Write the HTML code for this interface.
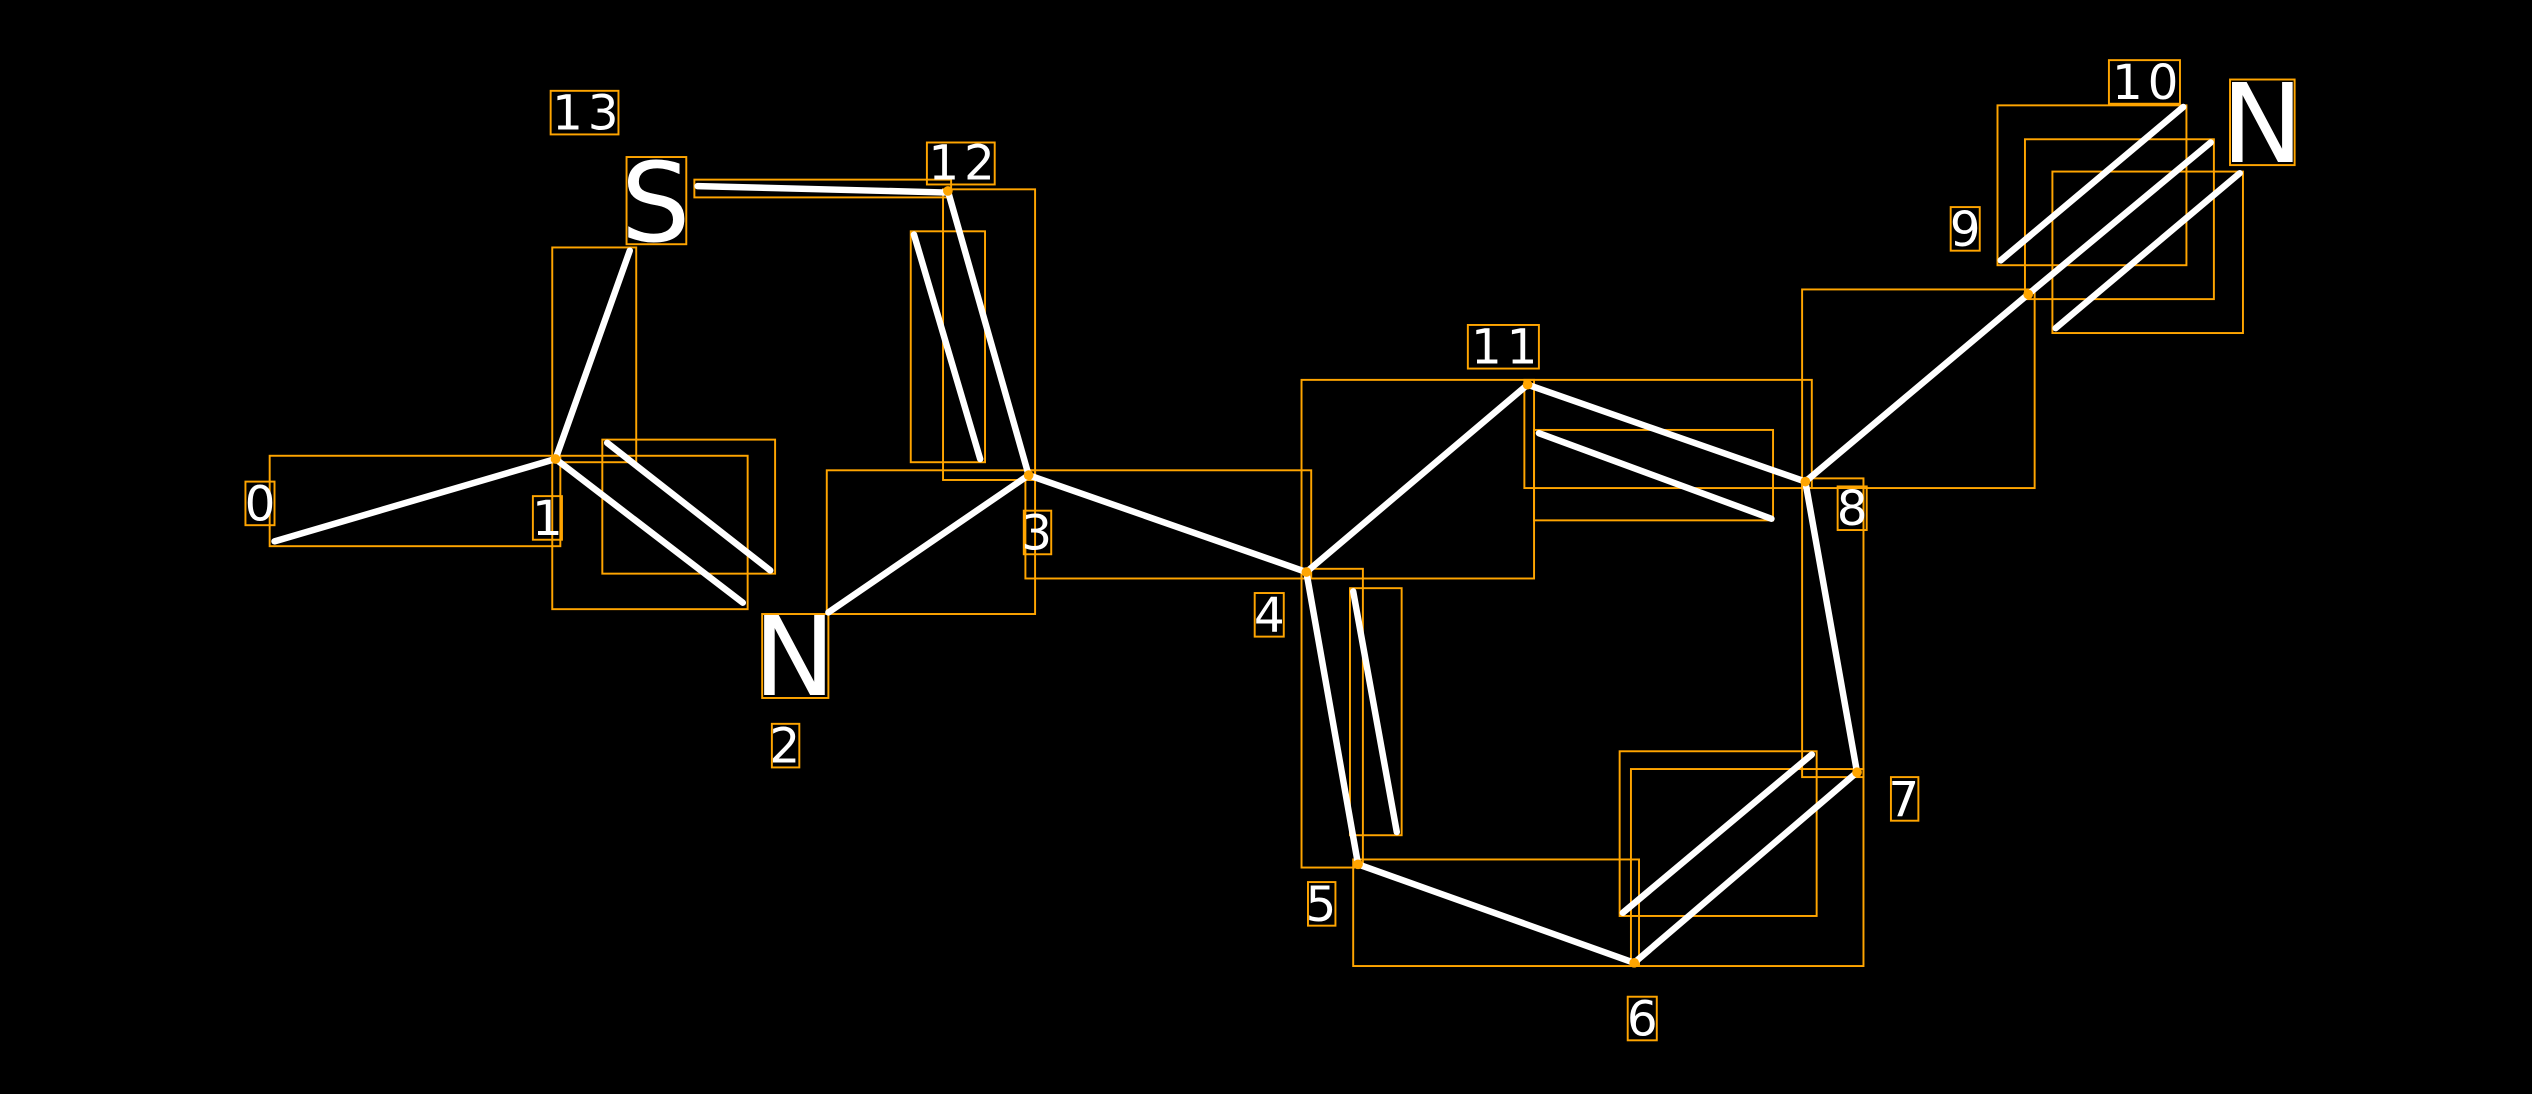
<!DOCTYPE html>
<html><head><meta charset="utf-8"><style>
html,body{margin:0;padding:0;background:#000;}
svg{display:block;}
text{font-family:"DejaVu Sans","Liberation Sans",sans-serif;fill:#fff;}
</style></head><body>
<svg width="2532" height="1094" viewBox="0 0 1568 677" xmlns="http://www.w3.org/2000/svg">
<rect width="1568" height="677" fill="#000"/>
<g fill="none" stroke="#FFA500" stroke-width="1.2">
<rect x="167" y="282" width="180" height="56"/>
<rect x="342" y="153" width="52" height="133"/>
<rect x="342" y="282" width="121" height="95"/>
<rect x="373" y="272" width="107" height="83"/>
<rect x="512" y="291" width="129" height="89"/>
<rect x="584" y="117" width="57" height="180"/>
<rect x="564" y="143" width="46" height="143"/>
<rect x="430" y="111" width="159" height="11"/>
<rect x="635" y="291" width="177" height="67"/>
<rect x="806" y="235" width="144" height="123"/>
<rect x="944" y="235" width="178" height="67"/>
<rect x="950" y="266" width="148" height="56"/>
<rect x="1116" y="179" width="144" height="123"/>
<rect x="1237" y="65" width="117" height="99"/>
<rect x="1254" y="86" width="117" height="99"/>
<rect x="1271" y="106" width="118" height="100"/>
<rect x="1116" y="296" width="38" height="185"/>
<rect x="1010" y="476" width="144" height="122"/>
<rect x="1003" y="465" width="122" height="102"/>
<rect x="838" y="532" width="177" height="66"/>
<rect x="806" y="352" width="38" height="185"/>
<rect x="836" y="364" width="32" height="153"/>
<rect x="152" y="298" width="18" height="27"/>
<rect x="330" y="307" width="18" height="27"/>
<rect x="478" y="448" width="17" height="27"/>
<rect x="634" y="316" width="17" height="27"/>
<rect x="777" y="367" width="18" height="27"/>
<rect x="810" y="546" width="17" height="27"/>
<rect x="1008" y="617" width="18" height="27"/>
<rect x="1171" y="481" width="17" height="27"/>
<rect x="1138" y="301" width="18" height="27"/>
<rect x="1208" y="128" width="18" height="27"/>
<rect x="1306" y="37" width="44" height="27"/>
<rect x="909" y="201" width="44" height="27"/>
<rect x="574" y="88" width="42" height="26"/>
<rect x="341" y="56" width="42" height="27"/>
<rect x="388" y="97" width="37" height="54"/>
<rect x="472" y="380" width="41" height="52"/>
<rect x="1381" y="49" width="40" height="53"/>
</g>
<g stroke="#fff" stroke-width="4" stroke-linecap="round">
<line x1="170" y1="335" x2="344" y2="284"/>
<line x1="344" y1="284" x2="390" y2="155"/>
<line x1="344" y1="284" x2="460" y2="373"/>
<line x1="376" y1="274" x2="477" y2="353"/>
<line x1="513" y1="379" x2="637" y2="294"/>
<line x1="637" y1="294" x2="587" y2="118"/>
<line x1="566" y1="145" x2="607" y2="284"/>
<line x1="432" y1="115" x2="587" y2="119"/>
<line x1="637" y1="294" x2="809" y2="354"/>
<line x1="809" y1="354" x2="946" y2="238"/>
<line x1="946" y1="238" x2="1118" y2="298"/>
<line x1="953" y1="268" x2="1097" y2="321"/>
<line x1="1118" y1="298" x2="1256" y2="182"/>
<line x1="1239" y1="161" x2="1352" y2="66"/>
<line x1="1256" y1="182" x2="1369" y2="88"/>
<line x1="1273" y1="203" x2="1387" y2="107"/>
<line x1="1118" y1="298" x2="1150" y2="478"/>
<line x1="1150" y1="478" x2="1012" y2="596"/>
<line x1="1005" y1="565" x2="1122" y2="467"/>
<line x1="1012" y1="596" x2="841" y2="535"/>
<line x1="841" y1="535" x2="809" y2="354"/>
<line x1="838" y1="366" x2="865" y2="515"/>
</g>
<g fill="#FFA500">
<circle cx="344" cy="284" r="3"/><circle cx="637" cy="294" r="3"/><circle cx="809" cy="354" r="3"/>
<circle cx="587" cy="118" r="3"/><circle cx="1118" cy="298" r="3"/><circle cx="1256" cy="182" r="3"/>
<circle cx="841" cy="535" r="3"/><circle cx="1012" cy="596" r="3"/><circle cx="1150" cy="478" r="3"/>
<circle cx="946" cy="238" r="3"/>
</g>
<g font-size="30" text-anchor="middle">
<text x="161" y="322">0</text>
<text x="339" y="331">1</text>
<text x="486" y="472">2</text>
<text x="642" y="340">3</text>
<text x="786" y="391">4</text>
<text x="818" y="570">5</text>
<text x="1017" y="641">6</text>
<text x="1179" y="505">7</text>
<text x="1147" y="325">8</text>
<text x="1217" y="152">9</text>
<text x="1330" y="61" letter-spacing="3">10</text>
<text x="933" y="225" letter-spacing="3">11</text>
<text x="597" y="111" letter-spacing="3">12</text>
<text x="364" y="80" letter-spacing="3">13</text>
<text x="406" y="149" font-size="68">S</text>
<text x="492" y="430" font-size="68">N</text>
<text x="1401" y="100" font-size="68">N</text>
</g>
</svg>
</body></html>
